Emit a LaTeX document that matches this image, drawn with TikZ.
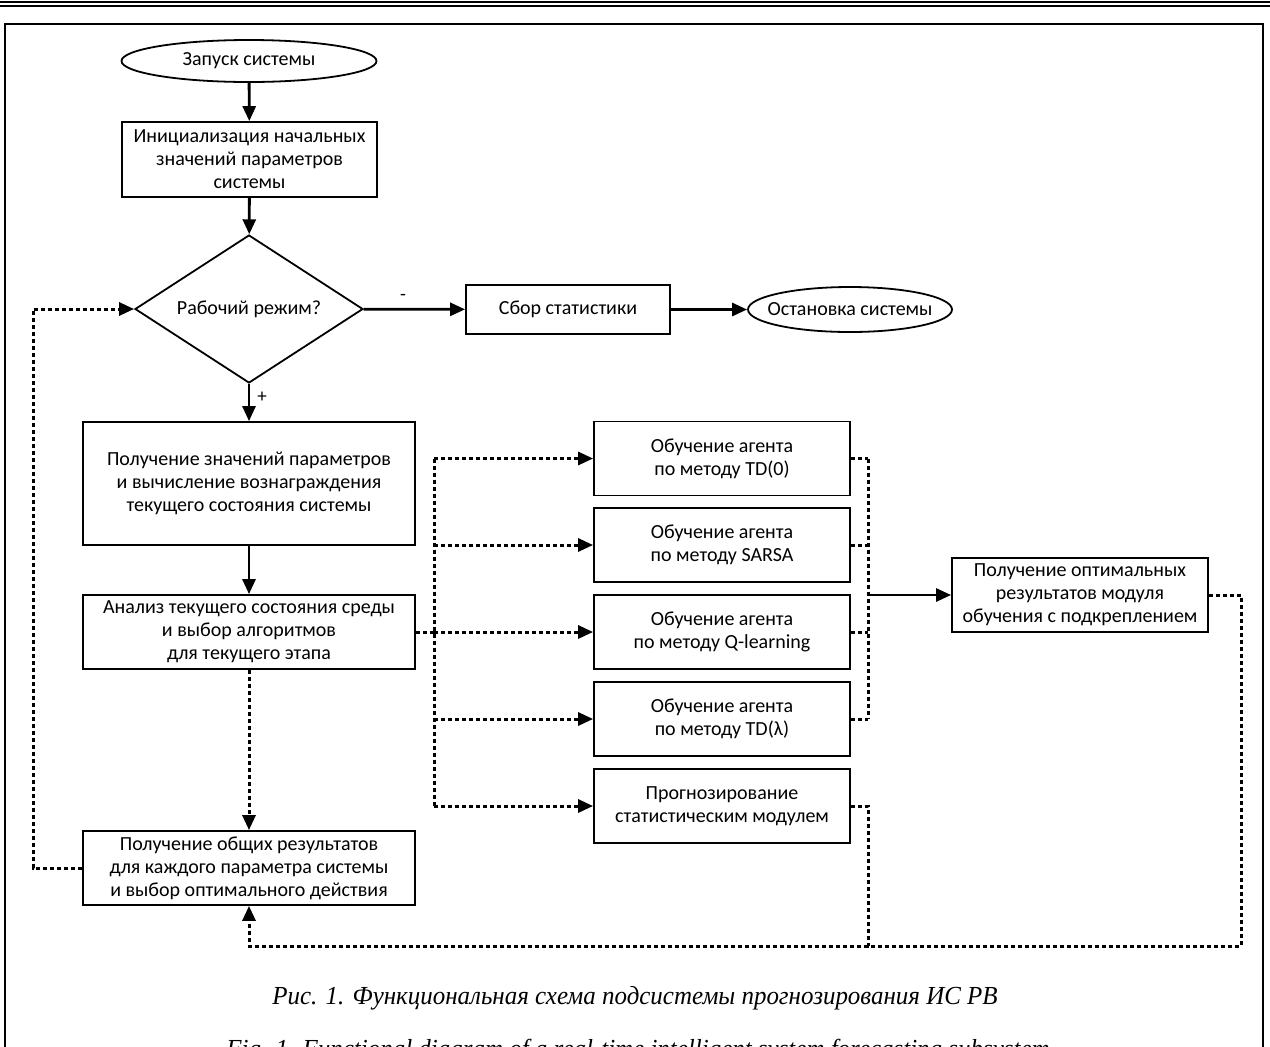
\documentclass[tikz,border=0pt]{standalone}
\usepackage{fontspec}
\setmainfont{Carlito}
\newfontfamily\capfont[FakeStretch=0.96]{Liberation Serif}
\usetikzlibrary{shapes.geometric,arrows.meta}
\begin{document}
\begin{tikzpicture}[x=0.5pt,y=-0.5pt,
  font=\fontsize{10}{11.5}\selectfont,
  every node/.style={inner sep=0pt, align=center},
  box/.style={draw, line width=0.9pt, rectangle},
  lbox/.style={box, minimum width=166pt, minimum height=37pt},
  rbox/.style={box, minimum width=128pt, minimum height=37pt},
  oval/.style={draw, line width=0.9pt, ellipse},
  tip/.style={-{Triangle[length=7.5pt,width=6.5pt]}},
  arr/.style={line width=1.4pt, tip},
  dotl/.style={line width=1.5pt, dash pattern=on 2pt off 1.5pt},
  dotarr/.style={dotl, tip},
  lab/.style={font=\fontsize{9.5}{11}\selectfont}
]
\useasboundingbox (0,0) rectangle (1270,1046);
\clip (0,0) rectangle (1270,1046);
% top rules and frame
\draw[line width=1.4pt] (0,2) -- (1270,2);
\draw[line width=0.7pt] (0,6) -- (1270,6);
\draw[line width=0.9pt] (5,24) rectangle (1263,1200);

% nodes
\node[oval, minimum width=127.5pt, minimum height=21pt] (start) at (249,61) {\makebox[0pt]{Запуск системы}};
\node[box, minimum width=127.5pt, minimum height=37.5pt] (init) at (249.5,159.5) {Инициализация начальных\\значений параметров\\системы};
\node[draw, line width=0.9pt, diamond, shape aspect=1.54, minimum width=114pt, minimum height=74pt] (dec) at (249,309) {Рабочий режим?};
\node[box, minimum width=102pt, minimum height=24.5pt] (collect) at (568,309.5) {Сбор статистики};
\node[oval, minimum width=102pt, minimum height=22.5pt] (stop) at (850,309.5) {\makebox[0pt]{Остановка системы}};
\node[box, minimum width=166pt, minimum height=61.5pt] (getv) at (249,483.5) {Получение значений параметров\\и вычисление вознаграждения\\текущего состояния системы};
\node[lbox] (anal) at (249,632) {Анализ текущего состояния среды\\и выбор алгоритмов\\для текущего этапа};
\node[lbox] (gen) at (249,868) {Получение общих результатов\\для каждого параметра системы\\и выбор оптимального действия};
\node[rbox] (td0) at (722,458.5) {Обучение агента\\по методу TD(0)};
\node[rbox] (sarsa) at (722,545) {Обучение агента\\по методу SARSA};
\node[rbox] (ql) at (722,632) {Обучение агента\\по методу Q-learning};
\node[rbox] (tdl) at (722,719) {Обучение агента\\по методу TD(λ)};
\node[rbox] (prog) at (722,806) {Прогнозирование\\статистическим модулем};
\node[rbox] (opt) at (1080,595) {Получение оптимальных\\результатов модуля\\обучения с подкреплением};

\node[lab] (minus) at (403,297) {-};
\node[lab] (plus) at (262,397) {+};

% bus coordinates
\coordinate (bl) at (434,632);
\coordinate (br) at (868,595);
\coordinate (rr) at (1241,595);
\coordinate (bot) at (868,946);
\coordinate (lft) at (33,868);

% solid connectors
\draw[arr] (start) -- (init);
\draw[arr] (init) -- (dec);
\draw[arr] (dec) -- (collect);
\draw[arr] (collect) -- (stop);
\draw[arr] (dec) -- (getv);
\draw[arr] (getv) -- (anal);
\draw[arr] (br) -- (opt.west);

% dotted connectors
\draw[dotl] (anal.east) -- (bl);
\draw[dotl] (bl |- td0.west) -- (bl |- prog.west);
\foreach \n in {td0,sarsa,ql,tdl,prog} \draw[dotarr] (bl |- \n.west) -- (\n.west);
\foreach \n in {td0,sarsa,ql,tdl} \draw[dotl] (\n.east) -- (br |- \n.east);
\draw[dotl] (br |- td0.east) -- (br |- tdl.east);
\draw[dotarr] (opt.east) -- (rr) |- (bot) -| (gen.south);
\draw[dotl] (prog.east) -| (bot);
\draw[dotarr] (anal) -- (gen);
\draw[dotarr] (gen.west) -- (lft) |- (dec.west);

% captions
\node[font=\capfont\itshape\fontsize{13}{16}\selectfont] (cap1) at (635,998) {Рис. 1. Функциональная схема подсистемы прогнозирования ИС РВ};
\node[font=\capfont\itshape\fontsize{13}{16}\selectfont] (cap2) at (638,1051) {Fig. 1. Functional diagram of a real-time intelligent system forecasting subsystem};
\end{tikzpicture}
\end{document}
